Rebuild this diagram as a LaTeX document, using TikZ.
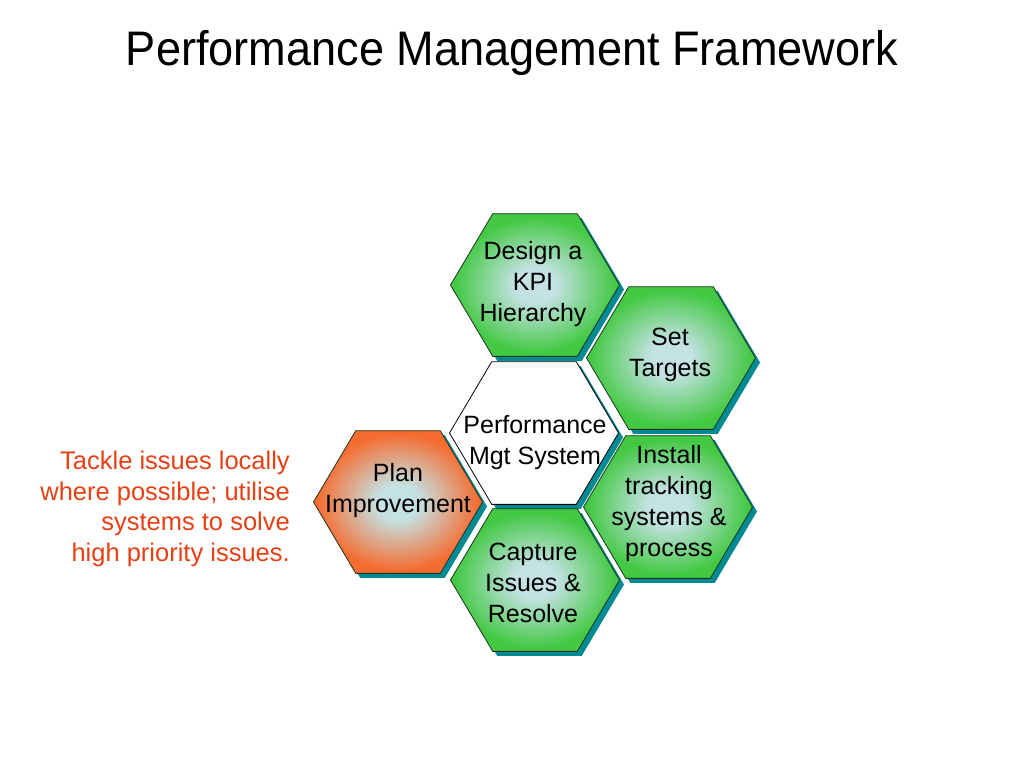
\documentclass[tikz,border=0pt]{standalone}
\usepackage{fontspec}
\setmainfont{Liberation Sans}
\usetikzlibrary{shapes.geometric,shadows}
\definecolor{hexgreen}{RGB}{66,200,66}
\definecolor{hexorange}{RGB}{245,108,48}
\definecolor{hexpale}{RGB}{196,226,228}
\definecolor{shadowteal}{RGB}{0,138,148}
\definecolor{hexline}{RGB}{30,50,30}
\definecolor{redtext}{RGB}{232,64,20}
\pgfdeclareradialshading{greenhex}{\pgfpoint{0bp}{0bp}}{color(0bp)=(hexpale); color(6bp)=(hexpale); color(24bp)=(hexgreen); color(50bp)=(hexgreen)}
\pgfdeclareradialshading{orangehex}{\pgfpoint{0bp}{0bp}}{color(0bp)=(hexpale); color(6bp)=(hexpale); color(24bp)=(hexorange); color(50bp)=(hexorange)}
\begin{document}
\begin{tikzpicture}[x=1pt,y=-1pt,
  hexbase/.style={regular polygon, regular polygon sides=6, minimum size=169pt,
    inner sep=0pt, yscale=0.975, draw=hexline, line width=0.8pt,
    drop shadow={shadow xshift=4.5pt, shadow yshift=-4.5pt, fill=shadowteal, opacity=1}},
  hexg/.style={hexbase, shading=greenhex},
  hexo/.style={hexbase, shading=orangehex},
  hexw/.style={hexbase, fill=white, draw=black},
  lbl/.style={font=\fontsize{25}{31}\selectfont, align=center, inner sep=0pt, text=black},
  note/.style={font=\fontsize{25.5}{30.5}\selectfont, align=right, inner sep=0pt, text=redtext},
  ttl/.style={font=\fontsize{48.5}{56}\selectfont, inner sep=0pt, xscale=0.93}]
\useasboundingbox[fill=white] (0,0) rectangle (1024,768);
\node[ttl, anchor=base] (title) at (512,65) {Performance Management Framework};

\node[hexg] (design) at (535,285) {};
\node[hexg] (set) at (671,358) {};
\node[hexw] (perf) at (534,433) {};
\node[hexo] (plan) at (398,502) {};
\node[hexg] (install) at (668,507) {};
\node[hexg] (capture) at (535,580) {};

\node[lbl] (tdesign) at (533,284) {Design a\\KPI\\Hierarchy};
\node[lbl] (tset) at (670,355) {Set\\Targets};
\node[lbl] (tperf) at (535,443) {Performance\\Mgt System};
\node[lbl] (tplan) at (398,491) {Plan\\Improvement};
\node[lbl] (tinstall) at (669,504) {Install\\tracking\\systems \&\\process};
\node[lbl] (tcapture) at (533,583) {Capture\\Issues \&\\Resolve};

\node[note, anchor=east] (note) at (290,509) {Tackle issues locally\\where possible; utilise\\systems to solve\\high priority issues.};
\end{tikzpicture}
\end{document}
